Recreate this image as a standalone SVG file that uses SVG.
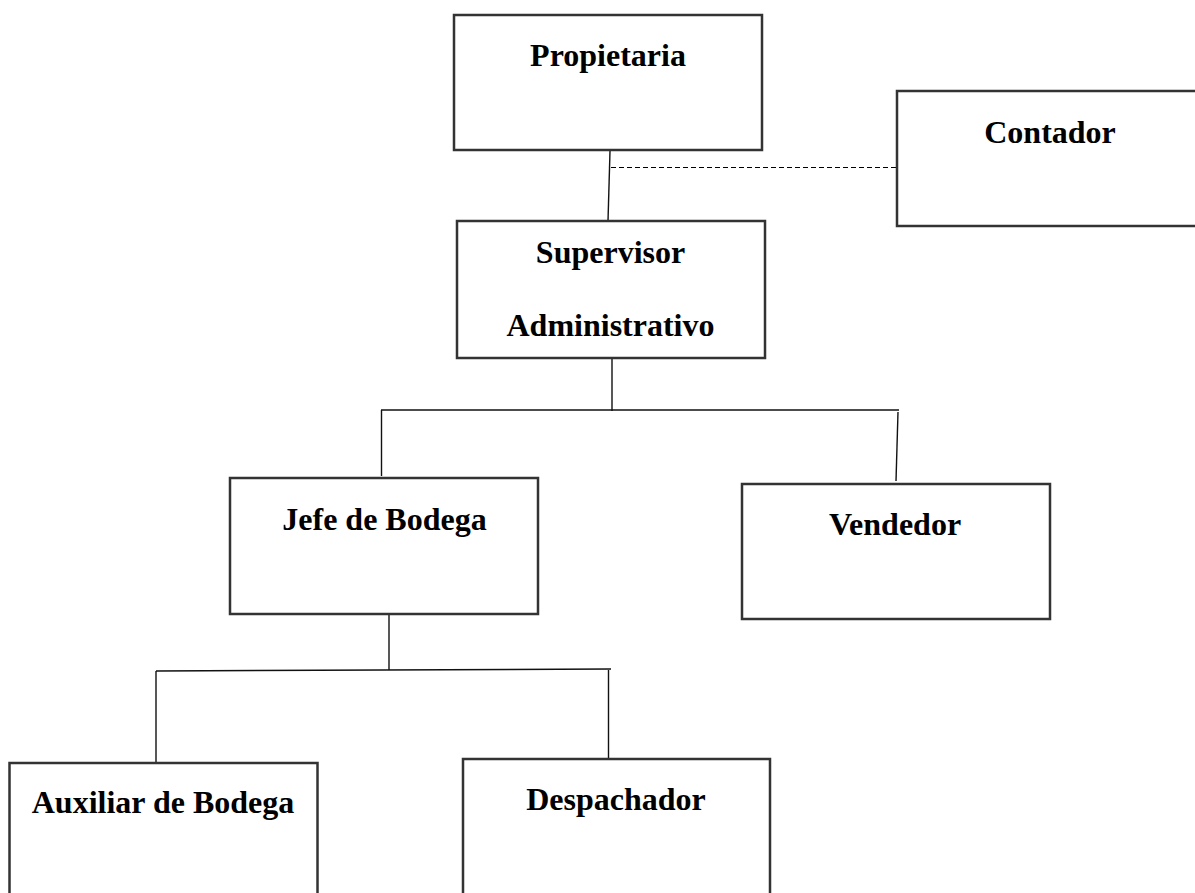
<svg xmlns="http://www.w3.org/2000/svg" width="1195" height="893" viewBox="0 0 1195 893">
<style>
.box{fill:#fff;stroke:#333;stroke-width:2.5}
.lbl{font-family:"Liberation Serif","Times New Roman",serif;font-weight:bold;font-size:32px;fill:#000;text-anchor:middle}
.con{fill:none;stroke:#111;stroke-width:1.4}
.dash{fill:none;stroke:#000;stroke-width:1;stroke-dasharray:5 3}
</style>
<rect width="1195" height="893" fill="#fff"/>
<g id="connectors">
<line class="con" x1="610" y1="151" x2="608" y2="221"/>
<line class="dash" x1="611" y1="167.5" x2="900" y2="167.5"/>
<line class="con" x1="612" y1="358" x2="612" y2="411"/>
<line class="con" x1="381" y1="410" x2="899" y2="410"/>
<line class="con" x1="381.5" y1="410" x2="381.5" y2="476"/>
<line class="con" x1="898" y1="412" x2="896" y2="481"/>
<line class="con" x1="389" y1="615" x2="389" y2="670"/>
<line class="con" x1="156" y1="671" x2="611" y2="669"/>
<line class="con" x1="156" y1="671" x2="156" y2="763"/>
<line class="con" x1="608.5" y1="670" x2="608.5" y2="762"/>
</g>
<g id="propietaria">
<rect class="box" x="454" y="15" width="308" height="135"/>
<text class="lbl" x="608" y="66">Propietaria</text>
</g>
<g id="contador">
<rect class="box" x="897" y="91" width="310" height="135"/>
<text class="lbl" x="1050" y="143">Contador</text>
</g>
<g id="supervisor">
<rect class="box" x="457" y="221" width="308" height="137"/>
<text class="lbl" x="610.5" y="263">Supervisor</text>
<text class="lbl" x="610.5" y="336">Administrativo</text>
</g>
<g id="jefe">
<rect class="box" x="230" y="478" width="308" height="136"/>
<text class="lbl" x="384.5" y="530">Jefe de Bodega</text>
</g>
<g id="vendedor">
<rect class="box" x="742" y="484" width="308" height="135"/>
<text class="lbl" x="895" y="535">Vendedor</text>
</g>
<g id="auxiliar">
<rect class="box" x="9.5" y="763" width="308" height="150"/>
<text class="lbl" x="163" y="813">Auxiliar de Bodega</text>
</g>
<g id="despachador">
<rect class="box" x="463" y="759" width="307" height="150"/>
<text class="lbl" x="616" y="810">Despachador</text>
</g>
</svg>
